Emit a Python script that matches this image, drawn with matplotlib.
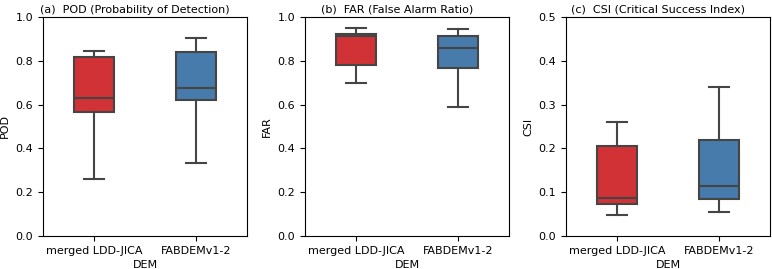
import numpy as np
import matplotlib
matplotlib.use("Agg")
import matplotlib.pyplot as plt

# box statistics (whislo, q1, median, q3, whishi)
dems = ["merged LDD-JICA", "FABDEMv1-2"]
pod_stats = [[0.262, 0.567, 0.628, 0.818, 0.847],
             [0.335, 0.619, 0.678, 0.841, 0.906]]
far_stats = [[0.700, 0.781, 0.912, 0.924, 0.951],
             [0.590, 0.767, 0.859, 0.914, 0.945]]
csi_stats = [[0.047, 0.072, 0.086, 0.205, 0.260],
             [0.054, 0.085, 0.115, 0.220, 0.341]]

titles = ["(a)  POD (Probability of Detection)",
          "(b)  FAR (False Alarm Ratio)",
          "(c)  CSI (Critical Success Index)"]
ylabels = ["POD", "FAR", "CSI"]
ylims = [(0, 1.0), (0, 1.0), (0, 0.5)]
yticks = [np.arange(0, 1.01, 0.2), np.arange(0, 1.01, 0.2), np.arange(0, 0.51, 0.1)]

box_colors = ["#d03236", "#467bab"]
line_color = "#454545"

fig = plt.figure(figsize=(7.72, 2.69), dpi=100)
lefts = [43 / 772, 305 / 772, 566 / 772]
w = 204 / 772
b = 33 / 269
h = 219 / 269

for i, stats in enumerate([pod_stats, far_stats, csi_stats]):
    ax = fig.add_axes([lefts[i], b, w, h])
    bxp_stats = []
    for name, s in zip(dems, stats):
        bxp_stats.append(dict(label=name, whislo=s[0], q1=s[1], med=s[2],
                              q3=s[3], whishi=s[4], fliers=[]))
    lp = dict(color=line_color, linewidth=1.5)
    bp = ax.bxp(bxp_stats, positions=[0, 1], widths=0.4, capwidths=0.2,
                patch_artist=True, showfliers=False,
                boxprops=dict(edgecolor=line_color, linewidth=1.5),
                whiskerprops=lp, capprops=lp, medianprops=lp)
    for patch, c in zip(bp["boxes"], box_colors):
        patch.set_facecolor(c)
    ax.set_xlim(-0.5, 1.5)
    ax.set_ylim(*ylims[i])
    ax.set_yticks(yticks[i])
    ax.set_yticklabels([f"{t:.1f}" for t in yticks[i]])
    ax.set_xticks([0, 1])
    ax.set_xticklabels(dems)
    ax.tick_params(labelsize=8)
    ax.set_xlabel("DEM", fontsize=8, labelpad=3)
    ax.set_ylabel(ylabels[i], fontsize=8)
    ax.set_title(titles[i], fontsize=8, x=0.45, pad=3)

fig.savefig("out.png", dpi=100)
